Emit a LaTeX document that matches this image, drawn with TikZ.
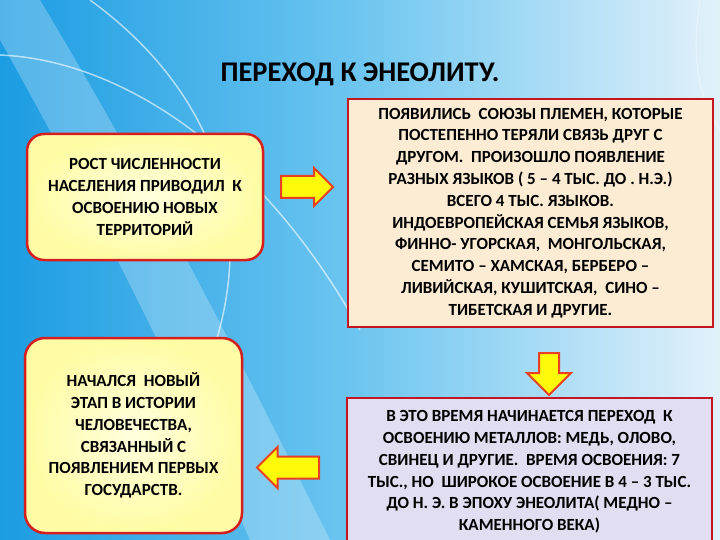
\documentclass[tikz,border=0pt]{standalone}
\usepackage{fontspec}
\setmainfont{Carlito}
\usetikzlibrary{positioning,shapes.arrows,calc}
\definecolor{bgleft}{RGB}{28,156,226}
\definecolor{bgmid}{RGB}{110,198,240}
\definecolor{bgright}{RGB}{226,241,250}
\definecolor{boxred}{RGB}{196,22,32}
\definecolor{roundred}{RGB}{214,30,30}
\definecolor{arrowred}{RGB}{232,64,32}
\definecolor{arrowyel}{RGB}{255,250,10}
\definecolor{paleyel}{RGB}{255,255,222}
\definecolor{deepyel}{RGB}{255,252,165}
\definecolor{beige}{RGB}{252,236,212}
\definecolor{lavender}{RGB}{226,222,242}
\tikzset{
  eneo/title/.style={font=\bfseries\fontsize{28.5}{32}\selectfont},
  eneo/text/.style={
    align=center,
    font=\bfseries\fontsize{17}{21.8}\selectfont,
    inner sep=0pt
  },
  eneo/round/.style={
    eneo/text,
    draw=roundred,
    line width=2.5pt,
    rounded corners=17pt,
    inner color=paleyel,
    outer color=deepyel
  },
  eneo/rect/.style={eneo/text, draw=boxred, line width=1.6pt},
  eneo/arrow/.style={
    single arrow,
    draw=arrowred,
    line width=2pt,
    fill=arrowyel,
    inner sep=0pt
  }
}

\begin{document}
\begin{tikzpicture}[x=1pt, y=-1pt]

% --- background
\useasboundingbox (0,0) rectangle (720,540);
\shade[left color=bgleft, right color=bgright, middle color=bgmid] (0,0) rectangle (720,540);
\fill[white, opacity=0.25] (40,0) .. controls (160,200) and (250,380) .. (330,540)
  -- (250,540) .. controls (180,380) and (90,200) .. (0,40) -- (0,0) -- cycle;
\draw[white, opacity=0.6, line width=1.5pt] (0,55) .. controls (120,60) and (260,150) .. (360,330);
\draw[white, opacity=0.6, line width=1.5pt] (90,0) .. controls (200,80) and (260,200) .. (215,345);
\draw[white, opacity=0.4, line width=1pt] (700,0) .. controls (690,60) and (700,100) .. (720,130);

\node[eneo/title] (title) at (360,74) {ПЕРЕХОД К ЭНЕОЛИТУ.};

% --- boxes
\node[eneo/round, minimum width=236pt, minimum height=126pt] (growth) at (145,197) {%
  РОСТ ЧИСЛЕННОСТИ\\
  НАСЕЛЕНИЯ ПРИВОДИЛ \ К\\
  ОСВОЕНИЮ НОВЫХ\\
  ТЕРРИТОРИЙ};

\node[eneo/rect, fill=beige, minimum width=365pt, minimum height=228pt] (tribes) at (530.5,213) {%
  ПОЯВИЛИСЬ \ СОЮЗЫ ПЛЕМЕН, КОТОРЫЕ\\
  ПОСТЕПЕННО ТЕРЯЛИ СВЯЗЬ ДРУГ С\\
  ДРУГОМ. \ ПРОИЗОШЛО ПОЯВЛЕНИЕ\\
  РАЗНЫХ ЯЗЫКОВ ( 5 – 4 ТЫС. ДО . Н.Э.)\\
  ВСЕГО 4 ТЫС. ЯЗЫКОВ.\\
  ИНДОЕВРОПЕЙСКАЯ СЕМЬЯ ЯЗЫКОВ,\\
  ФИННО- УГОРСКАЯ, \ МОНГОЛЬСКАЯ,\\
  СЕМИТО – ХАМСКАЯ, БЕРБЕРО –\\
  ЛИВИЙСКАЯ, КУШИТСКАЯ, \ СИНО –\\
  ТИБЕТСКАЯ И ДРУГИЕ.};

\node[eneo/rect, fill=lavender, minimum width=365pt, minimum height=148pt] (metals) at (529.5,472) {%
  В ЭТО ВРЕМЯ НАЧИНАЕТСЯ ПЕРЕХОД \ К\\
  ОСВОЕНИЮ МЕТАЛЛОВ: МЕДЬ, ОЛОВО,\\
  СВИНЕЦ И ДРУГИЕ. \ ВРЕМЯ ОСВОЕНИЯ: 7\\
  ТЫС., НО \ ШИРОКОЕ ОСВОЕНИЕ В 4 – 3 ТЫС.\\
  ДО Н. Э. В ЭПОХУ ЭНЕОЛИТА( МЕДНО –\\
  КАМЕННОГО ВЕКА)};

\node[eneo/round, minimum width=217pt, minimum height=195pt, rounded corners=20pt] (states) at (133.5,435.5) {%
  НАЧАЛСЯ \ НОВЫЙ\\
  ЭТАП В ИСТОРИИ\\
  ЧЕЛОВЕЧЕСТВА,\\
  СВЯЗАННЫЙ С\\
  ПОЯВЛЕНИЕМ ПЕРВЫХ\\
  ГОСУДАРСТВ.};

% --- block arrows
\node[eneo/arrow, minimum height=52pt, inner ysep=10pt, single arrow head extend=8pt]
  (toTribes) at (301.5,187) {};
\node[eneo/arrow, minimum height=42pt, inner xsep=9pt, single arrow head extend=12pt,
  shape border rotate=270] (toMetals) at (549,369) {};
\node[eneo/arrow, minimum height=62pt, inner ysep=10pt, single arrow head extend=9.5pt,
  shape border rotate=180] (toStates) at (293.5,467.5) {};

\end{tikzpicture}
\end{document}
